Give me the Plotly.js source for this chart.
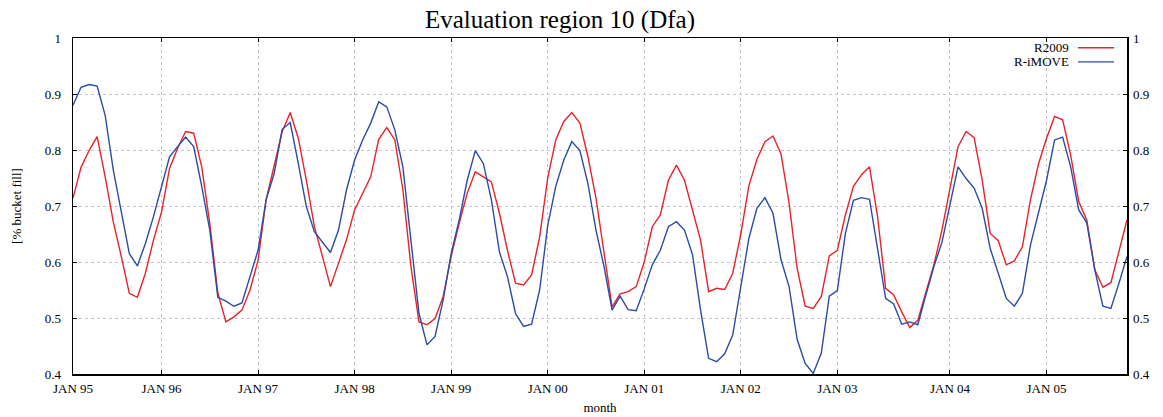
<!DOCTYPE html>
<html>
<head>
<meta charset="utf-8">
<script src="https://cdn.plot.ly/plotly-3.0.1.min.js"></script>
<style>html,body{margin:0;padding:0;background:#fff;}#chart{width:1163px;height:417px;}</style>
</head>
<body>
<div id="chart"></div>
<script>
// month index (0 = first month shown)
const monthIndex = Array.from({length: 132}, (_, i) => i);

const r2009 = [
0.714,0.769,0.799,0.824,0.752,0.672,0.610,0.544,0.537,0.580,0.639,0.689,
0.767,0.803,0.833,0.830,0.770,0.669,0.545,0.493,0.502,0.514,0.550,0.603,
0.711,0.770,0.833,0.867,0.821,0.746,0.663,0.610,0.556,0.598,0.640,0.693,
0.723,0.752,0.819,0.840,0.818,0.729,0.592,0.493,0.488,0.499,0.538,0.610,
0.669,0.723,0.761,0.752,0.743,0.687,0.621,0.562,0.559,0.577,0.645,0.750,
0.818,0.851,0.867,0.848,0.788,0.714,0.615,0.520,0.543,0.547,0.556,0.600,
0.663,0.684,0.746,0.773,0.746,0.690,0.639,0.547,0.553,0.551,0.580,0.650,
0.736,0.783,0.815,0.825,0.793,0.705,0.589,0.521,0.517,0.538,0.611,0.621,
0.684,0.735,0.756,0.770,0.681,0.553,0.541,0.511,0.483,0.496,0.544,0.595,
0.657,0.735,0.806,0.833,0.822,0.746,0.651,0.638,0.595,0.602,0.627,0.711,
0.775,0.821,0.860,0.854,0.791,0.708,0.675,0.586,0.555,0.563,0.621,0.675
];

const rImove = [
0.880,0.912,0.917,0.914,0.862,0.765,0.690,0.615,0.593,0.633,0.681,0.735,
0.788,0.806,0.823,0.806,0.735,0.657,0.537,0.530,0.521,0.527,0.575,0.621,
0.711,0.758,0.837,0.849,0.776,0.699,0.654,0.636,0.617,0.657,0.729,0.782,
0.818,0.848,0.886,0.877,0.836,0.770,0.639,0.508,0.452,0.467,0.532,0.615,
0.675,0.746,0.799,0.776,0.711,0.618,0.574,0.508,0.485,0.489,0.550,0.665,
0.735,0.782,0.815,0.799,0.740,0.657,0.592,0.514,0.539,0.515,0.513,0.552,
0.595,0.621,0.663,0.672,0.657,0.613,0.514,0.428,0.422,0.436,0.470,0.553,
0.642,0.696,0.715,0.687,0.604,0.556,0.462,0.419,0.401,0.437,0.539,0.549,
0.651,0.710,0.715,0.712,0.627,0.535,0.525,0.489,0.493,0.488,0.541,0.592,
0.635,0.702,0.770,0.749,0.732,0.696,0.624,0.580,0.535,0.521,0.544,0.630,
0.687,0.746,0.818,0.823,0.770,0.693,0.670,0.586,0.521,0.517,0.562,0.610
];

const xTickVals = [0, 11, 23, 35, 47, 59, 71, 83, 95, 109, 121];
const xTickText = ["JAN 95","JAN 96","JAN 97","JAN 98","JAN 99","JAN 00","JAN 01","JAN 02","JAN 03","JAN 04","JAN 05"];
const yTickVals = [0.4, 0.5, 0.6, 0.7, 0.8, 0.9, 1];
const yTickText = ["0.4","0.5","0.6","0.7","0.8","0.9","1"];
const seriesNames = ["R2009", "R-iMOVE"];
const seriesColors = ["#e8222b", "#2a4ca6"];

const FONT = "Liberation Serif, Times New Roman, serif";

const traces = [
  {x: monthIndex, y: r2009, type: "scatter", mode: "lines", name: seriesNames[0],
   line: {color: seriesColors[0], width: 1.4}, yaxis: "y", showlegend: false},
  {x: monthIndex, y: rImove, type: "scatter", mode: "lines", name: seriesNames[1],
   line: {color: seriesColors[1], width: 1.4}, yaxis: "y2", showlegend: false}
];

const gridStyle = {showgrid: true, gridcolor: "#c4c4c4", griddash: "dot", gridwidth: 1};

const layout = {
  width: 1163, height: 417,
  margin: {l: 73, r: 36, t: 38, b: 43},
  paper_bgcolor: "#fff", plot_bgcolor: "#fff",
  font: {family: FONT, size: 13, color: "#000"},
  title: {text: "Evaluation region 10 (Dfa)", font: {family: FONT, size: 25, color: "#000"},
          x: 0.462, xref: "paper", xanchor: "center", y: 0.955, yanchor: "middle"},
  xaxis: Object.assign({
    range: [0, 131], tickmode: "array", tickvals: xTickVals, ticktext: xTickText,
    ticks: "inside", ticklen: 4, tickcolor: "#000", ticklabelstandoff: 2,
    showline: true, linecolor: "#000", linewidth: 1.5, mirror: "ticks",
    zeroline: false, tickfont: {family: FONT, size: 13, color: "#000"},
    title: {text: "month", font: {family: FONT, size: 13, color: "#000"}, standoff: 8}
  }, gridStyle),
  yaxis: Object.assign({
    range: [0.4, 1], tickmode: "array", tickvals: yTickVals, ticktext: yTickText,
    ticks: "inside", ticklen: 4, tickcolor: "#000", ticklabelstandoff: 8,
    showline: true, linecolor: "#000", linewidth: 1.5, mirror: true,
    zeroline: false, tickfont: {family: FONT, size: 13, color: "#000"},
    title: {text: "[% bucket fill]", font: {family: FONT, size: 13, color: "#000"}, standoff: 20}
  }, gridStyle),
  yaxis2: {
    overlaying: "y", side: "right", range: [0.4, 1], tickmode: "array",
    tickvals: yTickVals, ticktext: yTickText, ticks: "inside", ticklen: 4, tickcolor: "#000",
    ticklabelstandoff: 5, showgrid: false, zeroline: false, showline: false,
    tickfont: {family: FONT, size: 13, color: "#000"}
  },
  annotations: [
    {text: seriesNames[0], xref: "paper", x: 0.9468, yref: "paper", y: 0.971, xanchor: "right",
     yanchor: "middle", showarrow: false, font: {family: FONT, size: 13, color: "#000"}},
    {text: seriesNames[1], xref: "paper", x: 0.9468, yref: "paper", y: 0.929, xanchor: "right",
     yanchor: "middle", showarrow: false, font: {family: FONT, size: 13, color: "#000"}}
  ],
  shapes: [
    {type: "line", xref: "paper", yref: "paper", x0: 0.9535, x1: 0.9877, y0: 0.971, y1: 0.971,
     line: {color: seriesColors[0], width: 1.4}},
    {type: "line", xref: "paper", yref: "paper", x0: 0.9535, x1: 0.9877, y0: 0.929, y1: 0.929,
     line: {color: seriesColors[1], width: 1.4}}
  ]
};

Plotly.newPlot("chart", traces, layout, {displayModeBar: false, staticPlot: true});
</script>
</body>
</html>
